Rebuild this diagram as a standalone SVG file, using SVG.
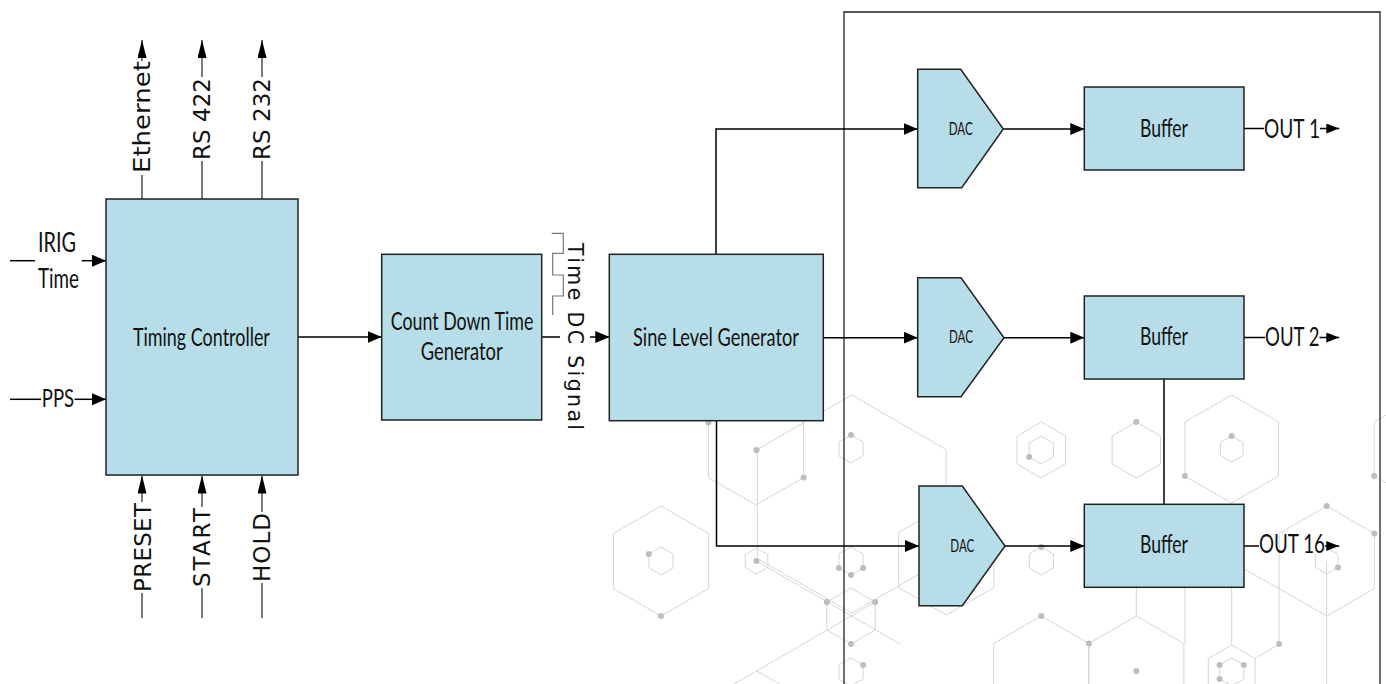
<svg xmlns="http://www.w3.org/2000/svg" width="1386" height="684" viewBox="0 0 1386 684">
<style>
.box{fill:#b7dee8;stroke:#222;stroke-width:1.5}
.conn{fill:none;stroke:#000;stroke-width:1.5}
.sig{fill:none;stroke:#333;stroke-width:1.3}
.frame{fill:none;stroke:#222;stroke-width:1.3}
.lbl{font-family:Lato,"Liberation Sans",sans-serif;font-size:24.5px;fill:#111;text-anchor:middle}
.out{font-family:Lato,"Liberation Sans",sans-serif;font-size:26.5px;fill:#111;text-anchor:start}
.dac{font-family:Lato,"Liberation Sans",sans-serif;font-size:17px;fill:#111;text-anchor:middle}
.vlbl{font-family:"DejaVu Sans",sans-serif;font-size:23px;fill:#111;text-anchor:middle}
.hex{fill:none;stroke:#d6d6d6;stroke-width:1}
.dot{fill:#bdbdbd}
.wave{fill:none;stroke:#777;stroke-width:1.2}
</style>
<defs>
<marker id="ah" markerUnits="userSpaceOnUse" markerWidth="14" markerHeight="12" refX="14" refY="6" orient="auto"><path d="M0,0 L14,6 L0,12 z" fill="#000"/></marker>
<marker id="av" markerUnits="userSpaceOnUse" markerWidth="18" markerHeight="9" refX="18" refY="4.5" orient="auto"><path d="M0,0 L18,4.5 L0,9 z" fill="#000"/></marker>
<marker id="ao" markerUnits="userSpaceOnUse" markerWidth="13" markerHeight="10" refX="13" refY="5" orient="auto"><path d="M0,0 L13,5 L0,10 z" fill="#000"/></marker>
</defs>
<rect width="1386" height="684" fill="#fff"/>
<g id="background">
<polygon class="hex" points="851.7,395 946.1,449.5 946.1,558.5 851.7,613 757.3,558.5 757.3,449.5"/>
<polygon class="hex" points="756,395 803.6,422.5 803.6,477.5 756,505 708.4,477.5 708.4,422.5"/>
<polygon class="hex" points="661,506 708.6,533.5 708.6,588.5 661,616 613.4,588.5 613.4,533.5"/>
<polygon class="hex" points="661,547 673.1,554 673.1,568 661,575 648.9,568 648.9,554"/>
<polygon class="hex" points="756.5,548 767.8,554.5 767.8,567.5 756.5,574 745.2,567.5 745.2,554.5"/>
<polygon class="hex" points="851,435 863.1,442 863.1,456 851,463 838.9,456 838.9,442"/>
<polygon class="hex" points="851,547 863.1,554 863.1,568 851,575 838.9,568 838.9,554"/>
<polygon class="hex" points="851,588 875.2,602 875.2,630 851,644 826.8,630 826.8,602"/>
<polygon class="hex" points="851,658 863.1,665 863.1,679 851,686 838.9,679 838.9,665"/>
<polygon class="hex" points="756.7,671 804.3,698.5 804.3,753.5 756.7,781 709.1,753.5 709.1,698.5"/>
<polygon class="hex" points="946.3,505 993.9,532.5 993.9,587.5 946.3,615 898.7,587.5 898.7,532.5"/>
<polygon class="hex" points="1041.3,422 1065.5,436 1065.5,464 1041.3,478 1017.1,464 1017.1,436"/>
<polygon class="hex" points="1041.3,436 1053.4,443 1053.4,457 1041.3,464 1029.2,457 1029.2,443"/>
<polygon class="hex" points="1136.3,422 1160.5,436 1160.5,464 1136.3,478 1112.1,464 1112.1,436"/>
<polygon class="hex" points="1231.7,395 1278.5,422 1278.5,476 1231.7,503 1184.9,476 1184.9,422"/>
<polygon class="hex" points="1231.7,436 1243,442.5 1243,455.5 1231.7,462 1220.4,455.5 1220.4,442.5"/>
<polygon class="hex" points="1041.3,547 1053.4,554 1053.4,568 1041.3,575 1029.2,568 1029.2,554"/>
<polygon class="hex" points="1041.3,616 1088.9,643.5 1088.9,698.5 1041.3,726 993.7,698.5 993.7,643.5"/>
<polygon class="hex" points="1136.3,616 1183.9,643.5 1183.9,698.5 1136.3,726 1088.7,698.5 1088.7,643.5"/>
<polygon class="hex" points="1326.7,506 1374.3,533.5 1374.3,588.5 1326.7,616 1279.1,588.5 1279.1,533.5"/>
<polygon class="hex" points="1326.7,548 1338,554.5 1338,567.5 1326.7,574 1315.4,567.5 1315.4,554.5"/>
<polygon class="hex" points="1421,395 1467.8,422 1467.8,476 1421,503 1374.2,476 1374.2,422"/>
<polygon class="hex" points="1231.7,645 1255.1,658.5 1255.1,685.5 1231.7,699 1208.3,685.5 1208.3,658.5"/>
<polygon class="hex" points="1231.7,658 1243.8,665 1243.8,679 1231.7,686 1219.6,679 1219.6,665"/>
<path class="hex" d="M756.5,561 L900,644 M756.7,671 L875.2,602 M1136.3,587 V616 M1326.7,561 V684 M1184.9,587 V643 M1231.7,587 V645 M1279.1,588.5 V644 L1255.1,658.5 M1244,569 L1279.1,588.5"/>
<g class="dot">
<circle cx="708.4" cy="422.5" r="3"/><circle cx="803.6" cy="477.5" r="3"/><circle cx="756.5" cy="450" r="3"/>
<circle cx="648.9" cy="554" r="3"/><circle cx="661" cy="616" r="3"/><circle cx="756.5" cy="561" r="3"/>
<circle cx="851" cy="435" r="3"/><circle cx="838.9" cy="568" r="3"/><circle cx="863.1" cy="568" r="3"/>
<circle cx="851" cy="575" r="3"/><circle cx="826.8" cy="602" r="3"/><circle cx="875.2" cy="602" r="3"/>
<circle cx="851" cy="644" r="3"/><circle cx="863.1" cy="665" r="3"/><circle cx="1029.2" cy="457" r="3"/>
<circle cx="1136.3" cy="422" r="3"/><circle cx="1231.7" cy="436" r="3"/><circle cx="1184.9" cy="476" r="3"/>
<circle cx="1041.3" cy="547" r="3"/><circle cx="1041.3" cy="616" r="3"/><circle cx="1088.9" cy="643.5" r="3"/>
<circle cx="1136.3" cy="671" r="3"/><circle cx="1326.7" cy="506" r="3"/><circle cx="1374.3" cy="533.5" r="3"/>
<circle cx="1338" cy="567.5" r="3"/><circle cx="1374.2" cy="476" r="3"/><circle cx="1279.1" cy="644" r="3"/>
<circle cx="1219.6" cy="665" r="3"/><circle cx="1243.8" cy="665" r="3"/><circle cx="1219.6" cy="679" r="3"/>
</g>
</g>
<path id="frame" class="frame" d="M844,684 V12 H1380 V684"/>
<g id="connectors">
<path class="conn" d="M298,337 H381.7" marker-end="url(#ah)"/>
<path class="conn" d="M541.7,337 H560"/>
<path class="conn" d="M590,337 H609.3" marker-end="url(#ah)"/>
<path class="conn" d="M716,254.3 V129 H917.7" marker-end="url(#ah)"/>
<path class="conn" d="M823.3,337.7 H917.7" marker-end="url(#ah)"/>
<path class="conn" d="M716.5,420.7 V546 H919" marker-end="url(#ah)"/>
<path class="conn" d="M1003.3,129 H1084.3" marker-end="url(#ah)"/>
<path class="conn" d="M1004,337.7 H1084.3" marker-end="url(#ah)"/>
<path class="conn" d="M1005,546 H1084.3" marker-end="url(#ah)"/>
<path class="conn" d="M1164,379 V504.3"/>
<path class="conn" d="M1244,128.5 H1264"/>
<path class="conn" d="M1320,128.5 H1339.3" marker-end="url(#ao)"/>
<path class="conn" d="M1244,337.5 H1265"/>
<path class="conn" d="M1319.5,337.5 H1339.3" marker-end="url(#ao)"/>
<path class="conn" d="M1244,546 H1259"/>
<path class="conn" d="M1325,546 H1339.3" marker-end="url(#ao)"/>
<path class="conn" d="M10,260.7 H35"/>
<path class="conn" d="M81.7,260.7 H106" marker-end="url(#ah)"/>
<path class="conn" d="M10,399.3 H41"/>
<path class="conn" d="M74.5,399.3 H106" marker-end="url(#ah)"/>
<path class="sig" d="M142,199 V175 M202,199 V161 M262,199 V161"/>
<path class="sig" d="M142,61 V40" marker-end="url(#av)"/>
<path class="sig" d="M202,77 V40" marker-end="url(#av)"/>
<path class="sig" d="M262,77 V40" marker-end="url(#av)"/>
<path class="sig" d="M142,618 V593 M202,618 V588 M262,618 V583"/>
<path class="sig" d="M142,502 V475.5" marker-end="url(#av)"/>
<path class="sig" d="M202,507 V475.5" marker-end="url(#av)"/>
<path class="sig" d="M262,512 V475.5" marker-end="url(#av)"/>
<path class="wave" d="M551.7,233.3 H563.3 V253.3 H552.7 V275 H563.3 V296 H552.7 V315"/>
</g>
<g id="signal-labels">
<text class="vlbl" transform="translate(150,117) rotate(-90)" textLength="112" lengthAdjust="spacingAndGlyphs">Ethernet</text>
<text class="vlbl" transform="translate(210,119) rotate(-90)" textLength="82">RS 422</text>
<text class="vlbl" transform="translate(270,119) rotate(-90)" textLength="82">RS 232</text>
<text class="vlbl" transform="translate(150.5,547.5) rotate(-90)" textLength="89">PRESET</text>
<text class="vlbl" transform="translate(210,547.5) rotate(-90)" textLength="79">START</text>
<text class="vlbl" transform="translate(270,547.5) rotate(-90)" textLength="69">HOLD</text>
<text class="vlbl" style="font-size:20.5px" transform="translate(568,336.5) rotate(90)" textLength="187">Time DC Signal</text>
<text class="lbl" style="font-size:27px" x="57" y="251.7" textLength="38" lengthAdjust="spacingAndGlyphs">IRIG</text>
<text class="lbl" style="font-size:27px" x="58.5" y="288.3" textLength="41" lengthAdjust="spacingAndGlyphs">Time</text>
<text class="lbl" style="font-size:25.5px" x="58" y="406.7" textLength="32.3" lengthAdjust="spacingAndGlyphs">PPS</text>
<text class="out" x="1264" y="137.7" textLength="56" lengthAdjust="spacingAndGlyphs">OUT 1</text>
<text class="out" x="1265" y="346" textLength="54.5" lengthAdjust="spacingAndGlyphs">OUT 2</text>
<text class="out" x="1259" y="553" textLength="66" lengthAdjust="spacingAndGlyphs">OUT 16</text>
</g>
<g id="timing-controller">
<rect class="box" x="106" y="199" width="192" height="276"/>
<text class="lbl" x="201.4" y="346" textLength="137" lengthAdjust="spacingAndGlyphs">Timing Controller</text>
</g>
<g id="count-down">
<rect class="box" x="381.7" y="254.3" width="160" height="165.7"/>
<text class="lbl" x="462" y="330" textLength="142.6" lengthAdjust="spacingAndGlyphs">Count Down Time</text>
<text class="lbl" x="461.7" y="360" textLength="82" lengthAdjust="spacingAndGlyphs">Generator</text>
</g>
<g id="sine-level-generator">
<rect class="box" x="609.3" y="254.3" width="214" height="166.4"/>
<text class="lbl" x="716" y="346" textLength="166" lengthAdjust="spacingAndGlyphs">Sine Level Generator</text>
</g>
<g id="dac1">
<polygon class="box" points="917.7,69.3 960.7,69.3 1003.3,129 961.7,187.7 917.7,187.7"/>
<text class="dac" x="960.7" y="135" textLength="24" lengthAdjust="spacingAndGlyphs">DAC</text>
</g>
<g id="dac2">
<polygon class="box" points="917.7,277.7 961,277.7 1004,337.7 961,396.7 917.7,396.7"/>
<text class="dac" x="961" y="343.3" textLength="24" lengthAdjust="spacingAndGlyphs">DAC</text>
</g>
<g id="dac3">
<polygon class="box" points="919,486 962.3,486 1005,546 962.3,605.7 919,605.7"/>
<text class="dac" x="962.3" y="551.7" textLength="24" lengthAdjust="spacingAndGlyphs">DAC</text>
</g>
<g id="buffer1">
<rect class="box" x="1084.3" y="87" width="159.7" height="83"/>
<text class="lbl" x="1164" y="136.7" textLength="48" lengthAdjust="spacingAndGlyphs">Buffer</text>
</g>
<g id="buffer2">
<rect class="box" x="1084.3" y="296" width="159.7" height="83"/>
<text class="lbl" x="1164" y="345" textLength="48" lengthAdjust="spacingAndGlyphs">Buffer</text>
</g>
<g id="buffer3">
<rect class="box" x="1084.3" y="504.3" width="159.7" height="83"/>
<text class="lbl" x="1164" y="552.7" textLength="48" lengthAdjust="spacingAndGlyphs">Buffer</text>
</g>
</svg>
